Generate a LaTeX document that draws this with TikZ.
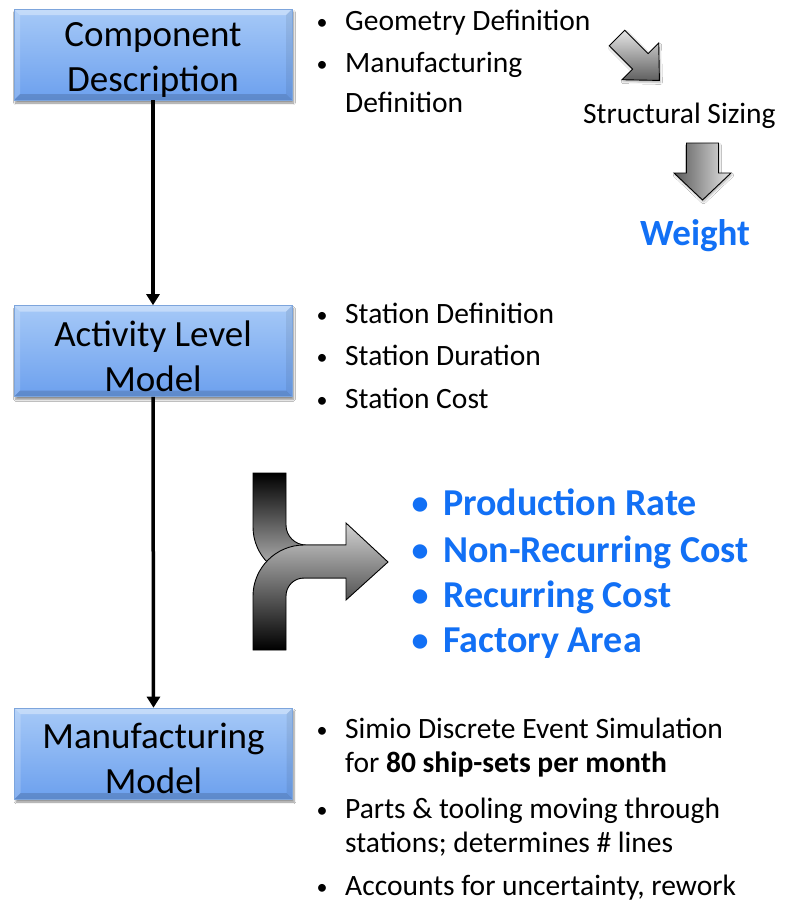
\documentclass[tikz,border=0pt]{standalone}
\usepackage{fontspec}
\setmainfont{Carlito}
\usetikzlibrary{arrows.meta,shadows.blur}
\definecolor{boxtop}{RGB}{166,201,247}
\definecolor{boxbot}{RGB}{108,160,238}
\definecolor{boxline}{RGB}{125,165,220}
\definecolor{keyblue}{RGB}{18,112,245}

\begin{document}
\begin{tikzpicture}[x=1pt,y=-1pt,
  modelbox/.style={minimum width=278pt, minimum height=91pt, inner sep=0pt,
    draw=boxline, line width=0.6pt,
    top color=boxtop, bottom color=boxbot,
    blur shadow={shadow xshift=1.5pt, shadow yshift=-3pt,
      shadow blur steps=6, shadow opacity=45},
    path picture={
      \fill[white,opacity=.35] (path picture bounding box.north west)
        -- (path picture bounding box.north east)
        -- ([xshift=-6pt,yshift=-6pt]path picture bounding box.north east)
        -- ([xshift=6pt,yshift=-6pt]path picture bounding box.north west) -- cycle;
      \fill[white,opacity=.18] (path picture bounding box.north west)
        -- ([xshift=6pt,yshift=-6pt]path picture bounding box.north west)
        -- ([xshift=6pt,yshift=6pt]path picture bounding box.south west)
        -- (path picture bounding box.south west) -- cycle;
      \fill[black,opacity=.07] (path picture bounding box.north east)
        -- (path picture bounding box.south east)
        -- ([xshift=-6pt,yshift=6pt]path picture bounding box.south east)
        -- ([xshift=-6pt,yshift=-6pt]path picture bounding box.north east) -- cycle;
      \fill[black,opacity=.14] (path picture bounding box.south west)
        -- ([xshift=6pt,yshift=6pt]path picture bounding box.south west)
        -- ([xshift=-6pt,yshift=6pt]path picture bounding box.south east)
        -- (path picture bounding box.south east) -- cycle;
    }},
  boxlabel/.style={align=center, inner sep=0pt, yshift=-5pt,
    font=\fontsize{37}{45}\selectfont},
  flow/.style={line width=3.5pt, -{Triangle[width=13pt,length=11pt]}},
  dot/.style={anchor=base, yshift=1pt, font=\fontsize{22}{22}\selectfont},
  itemtext/.style={anchor=base west, inner sep=0pt, font=\fontsize{29.5}{30}\selectfont},
  keydot/.style={anchor=base, yshift=1pt, text=keyblue, font=\fontsize{34}{34}\selectfont\bfseries},
  keytext/.style={anchor=base west, inner sep=0pt, text=keyblue, font=\fontsize{38}{38}\selectfont\bfseries},
  grayarrow/.style={draw=black, line width=0.9pt},
]
\useasboundingbox (0,0) rectangle (807,903);
\fill[white] (0,0) rectangle (807,903);

% model boxes
\node[modelbox] (comp) at (153,54.5) {};
\node[boxlabel] (comp-text) at (comp.center) {Component\\Description};
\node[modelbox] (act) at (153,351) {};
\node[boxlabel] (act-text) at (act.center) {Activity Level\\Model};
\node[modelbox] (mfg) at (153.5,753.5) {};
\node[boxlabel] (mfg-text) at (mfg.center) {Manufacturing\\Model};

% flow between the models
\draw[flow] (comp.south) -- (act.north);
\draw[flow] (act.south) -- (mfg.north);

% inputs of the component description
\node[dot] (b1) at (322,30) {•};
\node[itemtext] (t1) at (345,30) {Geometry Definition};
\node[dot] (b2) at (322,72) {•};
\node[itemtext] (t2) at (345,72) {Manufacturing};
\node[itemtext] (t2b) at (345,112) {Definition};

% sizing chain
\begin{scope}[shift={(617,38)}, rotate=-45]
  \path[grayarrow, top color=gray!20, bottom color=gray!75!black,
        blur shadow={shadow xshift=1pt, shadow yshift=-2pt, shadow opacity=30}]
    (0,-11) -- (33,-11) -- (33,-26) -- (60,0) -- (33,26) -- (33,11) -- (0,11) -- cycle;
\end{scope}
\node[itemtext] (sizing) at (583,123) {Structural Sizing};
\path[grayarrow, left color=gray!70!black, right color=gray!20,
      blur shadow={shadow xshift=1pt, shadow yshift=-2pt, shadow opacity=30}]
  (686.5,143) -- (718.5,143) -- (718.5,173) -- (731,173) -- (702.5,200)
  -- (674,173) -- (686.5,173) -- cycle;
\node[keytext, font=\fontsize{37}{37}\selectfont\bfseries] (weight) at (640,245) {Weight};

% activity level inputs
\node[dot] (b3) at (322,323) {•};
\node[itemtext] (t3) at (345,323) {Station Definition};
\node[dot] (b4) at (322,365) {•};
\node[itemtext] (t4) at (345,365) {Station Duration};
\node[dot] (b5) at (322,408) {•};
\node[itemtext] (t5) at (345,408) {Station Cost};

% merging arrow
\path[grayarrow, top color=black, bottom color=gray!45]
  (253,473) -- (286,473) -- (286,525) .. controls (286,536) and (295,545) .. (306,545)
  -- (346,545) -- (346,578) -- (304,578) .. controls (276,578) and (253,555) .. (253,527) -- cycle;
\path[grayarrow, top color=gray!35, bottom color=black]
  (253,650) -- (253,596) .. controls (253,568) and (276,545) .. (304,545)
  -- (346,545) -- (346,523) -- (388,562) -- (346,600) -- (346,578) -- (304,578)
  .. controls (294,578) and (286,586) .. (286,596) -- (286,650) -- cycle;

% key outputs
\node[keydot] (k1) at (420,515) {•};
\node[keytext] (kt1) at (443,515) {Production Rate};
\node[keydot] (k2) at (420,562) {•};
\node[keytext] (kt2) at (443,562) {Non-Recurring Cost};
\node[keydot] (k3) at (420,607) {•};
\node[keytext] (kt3) at (443,607) {Recurring Cost};
\node[keydot] (k4) at (420,652) {•};
\node[keytext] (kt4) at (443,652) {Factory Area};

% manufacturing model notes
\node[dot] (b6) at (322,738) {•};
\node[itemtext] (t6) at (345,738) {Simio Discrete Event Simulation};
\node[itemtext] (t6b) at (345,772) {for \textbf{80 ship-sets per month}};
\node[dot] (b7) at (322,818) {•};
\node[itemtext] (t7) at (345,818) {Parts \& tooling moving through};
\node[itemtext] (t7b) at (345,852) {stations; determines \# lines};
\node[dot] (b8) at (322,895) {•};
\node[itemtext] (t8) at (345,895) {Accounts for uncertainty, rework};
\end{tikzpicture}
\end{document}
